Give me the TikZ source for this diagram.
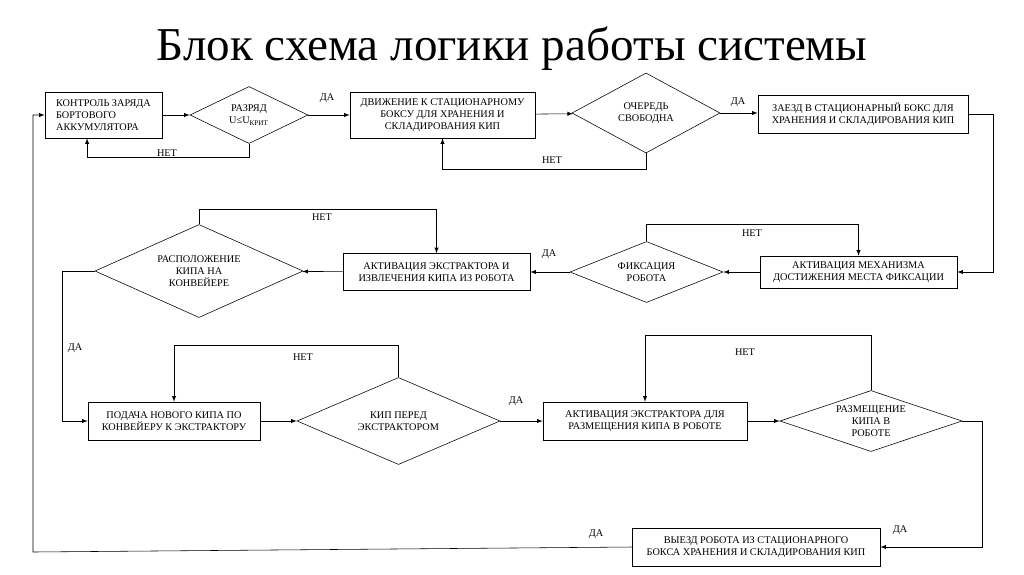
\documentclass[tikz,border=0pt]{standalone}
\usepackage{fontspec}
\setmainfont{Liberation Serif}
\usetikzlibrary{shapes.geometric}

\begin{document}
\begin{tikzpicture}[x=0.025cm, y=-0.025cm, >=latex, auto,
            every node/.style={font=\fontsize{7.3}{8.6}\selectfont},
            block/.style={draw, align=center, inner sep=1pt},
            decision/.style={draw, diamond, align=center, inner sep=0pt},
            lbl/.style={inner sep=0pt}]
            \useasboundingbox (0,0) rectangle (1024,574);
            \node[font=\fontsize{33.5}{40}\selectfont, anchor=base] (title) at (512,60) {Блок схема логики работы системы};

            \node[block, align=left, minimum width=2.925cm, minimum height=1.15cm] (kontrol_zaryada) at (103.5,115) {КОНТРОЛЬ ЗАРЯДА\\БОРТОВОГО\\АККУМУЛЯТОРА};
            \node[decision, aspect=2.07, minimum width=2.95cm, minimum height=1.425cm] (razryad) at (249,115) {РАЗРЯД\\U≤U\textsubscript{КРИТ}};
            \node[block, minimum width=4.625cm, minimum height=1.15cm] (dvizhenie) at (442.5,115) {ДВИЖЕНИЕ К СТАЦИОНАРНОМУ\\БОКСУ ДЛЯ ХРАНЕНИЯ И\\СКЛАДИРОВАНИЯ КИП};
            \node[decision, aspect=1.85, minimum width=3.7cm, minimum height=2cm] (ochered) at (646,113) {ОЧЕРЕДЬ\\СВОБОДНА};
            \node[block, minimum width=5.25cm, minimum height=0.95cm] (zaezd) at (863,114) {ЗАЕЗД В СТАЦИОНАРНЫЙ БОКС ДЛЯ\\ХРАНЕНИЯ И СКЛАДИРОВАНИЯ КИП};

            \node[block, minimum width=4.925cm, minimum height=0.8cm] (aktivaciya_mekh) at (858.5,272) {АКТИВАЦИЯ МЕХАНИЗМА\\ДОСТИЖЕНИЯ МЕСТА ФИКСАЦИИ};
            \node[decision, aspect=2.5, minimum width=3.825cm, minimum height=1.525cm] (fiksaciya) at (646.5,272) {ФИКСАЦИЯ\\РОБОТА};
            \node[block, minimum width=4.675cm, minimum height=0.925cm] (aktivaciya_izvl) at (436.5,272) {АКТИВАЦИЯ ЭКСТРАКТОРА И\\ИЗВЛЕЧЕНИЯ КИПА ИЗ РОБОТА};
            \node[decision, aspect=2.24, minimum width=5.2cm, minimum height=2.325cm] (raspolozhenie) at (199,271) {РАСПОЛОЖЕНИЕ\\КИПА НА\\КОНВЕЙЕРЕ};

            \node[block, minimum width=4.3cm, minimum height=0.95cm] (podacha) at (174,421) {ПОДАЧА НОВОГО КИПА ПО\\КОНВЕЙЕРУ К ЭКСТРАКТОРУ};
            \node[decision, aspect=2.33, minimum width=5.075cm, minimum height=2.175cm] (kip_pered) at (398.5,421) {КИП ПЕРЕД\\ЭКСТРАКТОРОМ};
            \node[block, minimum width=5.1cm, minimum height=0.95cm] (aktivaciya_razm) at (645,421) {АКТИВАЦИЯ ЭКСТРАКТОРА ДЛЯ\\РАЗМЕЩЕНИЯ КИПА В РОБОТЕ};
            \node[decision, aspect=3, minimum width=4.55cm, minimum height=1.525cm] (razmeshchenie) at (871,421) {РАЗМЕЩЕНИЕ\\КИПА В\\РОБОТЕ};

            \node[block, minimum width=6.2cm, minimum height=0.95cm] (vyezd) at (756,547) {ВЫЕЗД РОБОТА ИЗ СТАЦИОНАРНОГО\\БОКСА ХРАНЕНИЯ И СКЛАДИРОВАНИЯ КИП};
            \coordinate (return_corner) at (33,552);

            \node[lbl] (da_razryad) at (327,98) {ДА};
            \node[lbl] (net_razryad) at (167,153) {НЕТ};
            \node[lbl] (net_ochered) at (552,160) {НЕТ};
            \node[lbl] (da_ochered) at (738,102) {ДА};
            \node[lbl] (net_fiksaciya) at (752,233) {НЕТ};
            \node[lbl] (da_fiksaciya) at (549,254) {ДА};
            \node[lbl] (net_raspolozhenie) at (322,217) {НЕТ};
            \node[lbl] (da_raspolozhenie) at (75,348) {ДА};
            \node[lbl] (net_kip_pered) at (303,357) {НЕТ};
            \node[lbl] (da_kip_pered) at (516,401) {ДА};
            \node[lbl] (net_razmeshchenie) at (745,352) {НЕТ};
            \node[lbl] (da_razmeshchenie) at (900,530) {ДА};
            \node[lbl] (da_vyezd) at (596,534) {ДА};

            \draw[->] (kontrol_zaryada) -- (razryad);
            \draw[->] (razryad.south) -- ++(0,13) -| ([xshift=-0.41cm]kontrol_zaryada.south);
            \draw[->] (razryad) -- (dvizhenie);
            \draw[->] (dvizhenie) -- (ochered);
            \draw[->] (ochered.south) -- ++(0,16) -| (dvizhenie.south);
            \draw[->] (ochered.east) -- (ochered.east -| zaezd.west);
            \draw[->] (zaezd.east) -- ++(25,0) |- (aktivaciya_mekh.east);
            \draw[->] (aktivaciya_mekh) -- (fiksaciya);
            \draw[->] (fiksaciya.north) -- ++(0,-17) -| (aktivaciya_mekh.north);
            \draw[->] (fiksaciya) -- (aktivaciya_izvl);
            \draw[->] (aktivaciya_izvl) -- (raspolozhenie);
            \draw[->] (raspolozhenie.north) -- ++(0,-15) -| (aktivaciya_izvl.north);
            \draw[->] (raspolozhenie.west) -- ++(-32,0) |- (podacha.west);
            \draw[->] (podacha) -- (kip_pered);
            \draw[->] (kip_pered.north) -- ++(0,-32) -| (podacha.north);
            \draw[->] (kip_pered) -- (aktivaciya_razm);
            \draw[->] (aktivaciya_razm) -- (razmeshchenie);
            \draw[->] (razmeshchenie.north) -- ++(0,-55) -| (aktivaciya_razm.north);
            \draw[->] (razmeshchenie.east) -- ++(20,0) |- (vyezd.east);
            \draw[->] (vyezd.west) -- (return_corner) |- (kontrol_zaryada.west);
        \end{tikzpicture}
\end{document}
